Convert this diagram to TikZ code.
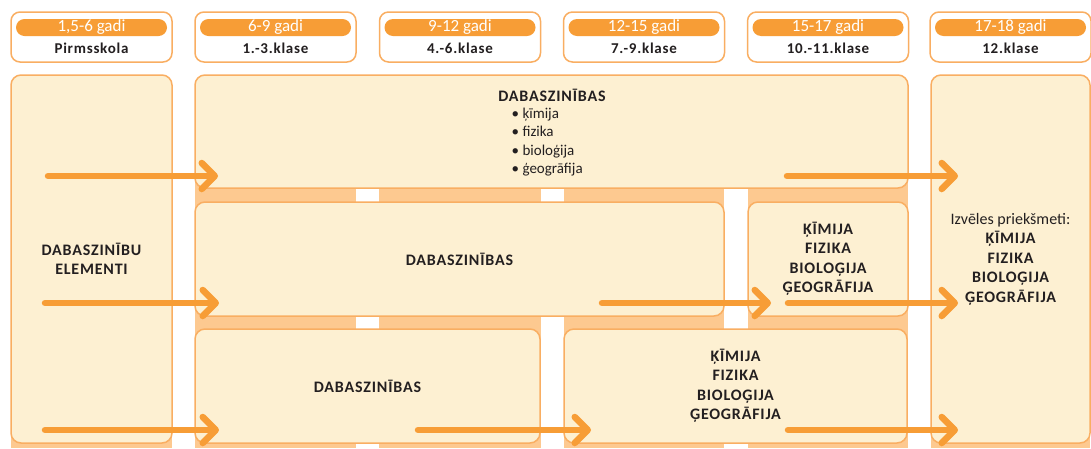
\documentclass[tikz,border=0pt]{standalone}
\usepackage{fontspec}
\setmainfont{Carlito}[BoldFeatures={LetterSpace=5}]
\usetikzlibrary{arrows.meta}
\definecolor{orA}{HTML}{F79D36}
\definecolor{orB}{HTML}{F9AE62}
\definecolor{cream}{HTML}{FDF0D2}
\definecolor{peach}{HTML}{FDC990}
\definecolor{ink}{HTML}{231F20}
\begin{document}
\begin{tikzpicture}[x=1pt,y=-1pt,
 hbox/.style={draw=orB, line width=1.5pt, fill=white, rounded corners=9pt, minimum width=161pt, minimum height=50pt, inner sep=0pt},
 pill/.style={fill=orA, rounded corners=8.5pt, minimum width=151pt, minimum height=17pt, inner sep=0pt, text=white, font=\fontsize{17}{17}\selectfont},
 sub/.style={text=ink, font=\bfseries\fontsize{15}{17}\selectfont, inner sep=0pt},
 mbox/.style={draw=orB, line width=1.5pt, fill=cream, rounded corners=10pt, inner sep=0pt, text=ink, font=\bfseries\fontsize{16}{19.5}\selectfont, align=center},
 item/.style={text=ink, font=\fontsize{15}{18}\selectfont, inner sep=0pt, anchor=base west},
 band/.style={fill=peach},
 arr/.style={draw=orA, line width=6.5pt, line cap=round, -{Straight Barb[length=13pt 0,width=26pt 0,line cap=round,line join=round]}},
]
\useasboundingbox (0,0) rectangle (1091,448);
% column bands
\foreach \a/\b in {11/172,195/356,379/541,564/724,748/908,931/1090}
  \fill[band] (\a,100) rectangle (\b,448);
% headers
\foreach \i/\c/\age/\cls in {1/91.5/{1,5-6 gadi}/Pirmsskola,2/275.5/6-9 gadi/1.-3.klase,3/460/9-12 gadi/4.-6.klase,4/644/12-15 gadi/7.-9.klase,5/828/15-17 gadi/10.-11.klase,6/1010.5/17-18 gadi/12.klase}{
  \node[hbox] (h\i) at (\c,37) {};
  \node[pill] (p\i) at (\c,27.5) {\age};
  \node[sub] (s\i) at (\c,48) {\cls};
}
% main boxes
\node[mbox, minimum width=161pt, minimum height=368pt] (L) at (91.5,259) {DABASZINĪBU\\ELEMENTI};
\node[mbox, minimum width=159pt, minimum height=368pt] (R) at (1010.5,259) {{\mdseries Izvēles priekšmeti:}\\ĶĪMIJA\\FIZIKA\\BIOLOĢIJA\\ĢEOGRĀFIJA};
\node[mbox, minimum width=713pt, minimum height=113pt] (T) at (551.5,131.5) {};
\node[mbox, minimum width=529pt, minimum height=114pt] (M1) at (459.5,259) {DABASZINĪBAS};
\node[mbox, minimum width=160pt, minimum height=114pt] (M2) at (828,259) {ĶĪMIJA\\FIZIKA\\BIOLOĢIJA\\ĢEOGRĀFIJA};
\node[mbox, minimum width=345pt, minimum height=114pt] (B1) at (367.5,386) {DABASZINĪBAS};
\node[mbox, minimum width=343pt, minimum height=114pt] (B2) at (735.5,386) {ĶĪMIJA\\FIZIKA\\BIOLOĢIJA\\ĢEOGRĀFIJA};
% row 1 texts
\node[text=ink, font=\bfseries\fontsize{16}{19.5}\selectfont, inner sep=0pt, anchor=base] (t0) at (552,101) {DABASZINĪBAS};
\node[item] (t1) at (511.5,118) {• ķīmija};
\node[item] (t2) at (511.5,136.5) {• fizika};
\node[item] (t3) at (511.5,155) {• bioloģija};
\node[item] (t4) at (511.5,173) {• ģeogrāfija};
% arrow coordinates
\coordinate (a1s) at (48,176);  \coordinate (a1e) at (218,176);
\coordinate (a2s) at (787,176); \coordinate (a2e) at (958,176);
\coordinate (b1s) at (45,303);  \coordinate (b1e) at (219,303);
\coordinate (b2s) at (602,303); \coordinate (b2e) at (771,303);
\coordinate (b3s) at (788,303); \coordinate (b3e) at (958,303);
\coordinate (c1s) at (45,430);  \coordinate (c1e) at (219,430);
\coordinate (c2s) at (418,430); \coordinate (c2e) at (591,430);
\coordinate (c3s) at (788,430); \coordinate (c3e) at (958,430);
\foreach \s/\e in {a1s/a1e,a2s/a2e,b1s/b1e,b2s/b2e,b3s/b3e,c1s/c1e,c2s/c2e,c3s/c3e}
  \draw[arr] (\s) -- (\e);
\end{tikzpicture}
\end{document}
